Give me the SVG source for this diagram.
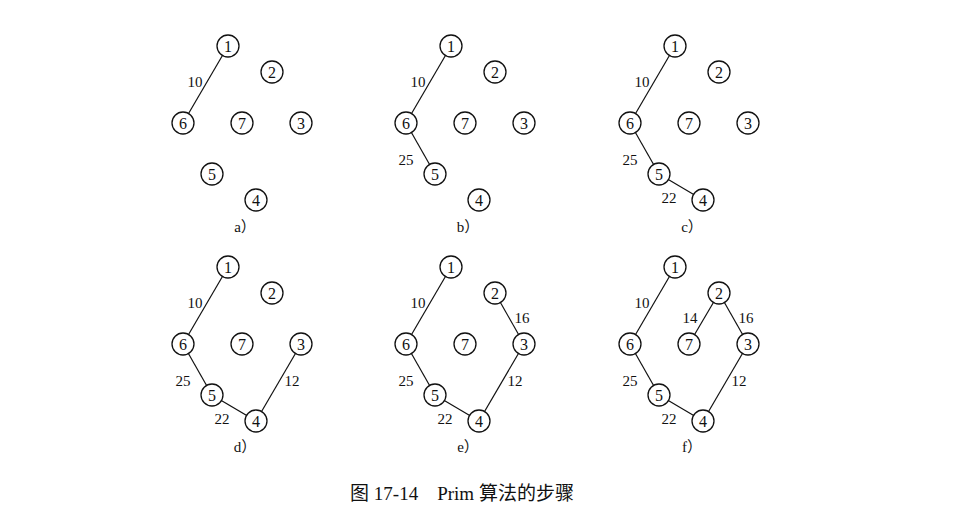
<svg xmlns="http://www.w3.org/2000/svg" width="964" height="521" viewBox="0 0 964 521">
<style>
.n circle{fill:#fff;stroke:#111;stroke-width:1.3}
.n text{font-family:"Liberation Serif",serif;font-size:16px;fill:#111;text-anchor:middle;dominant-baseline:central}
.e line{stroke:#111;stroke-width:1.2}
.w{font-family:"Liberation Serif",serif;font-size:15px;fill:#111;text-anchor:middle;dominant-baseline:central}
.cap{font-family:"Liberation Serif","Noto Sans CJK SC",serif;font-size:15px;fill:#111;text-anchor:middle}
.title{font-family:"Liberation Serif","Noto Sans CJK SC",serif;font-size:19px;fill:#111;text-anchor:middle}
</style>
<rect width="964" height="521" fill="#fff"/>

<!-- panel a -->
<g id="panel-a">
<g id="edges-a" class="e"><line x1="228" y1="46" x2="183" y2="123"/></g>
<text class="w" x="195" y="82">10</text>
<g id="a-n1" class="n"><circle cx="228" cy="46" r="11"/><text x="228" y="46">1</text></g>
<g id="a-n2" class="n"><circle cx="272" cy="72" r="11"/><text x="272" y="72">2</text></g>
<g id="a-n6" class="n"><circle cx="183" cy="123" r="11"/><text x="183" y="123">6</text></g>
<g id="a-n7" class="n"><circle cx="242" cy="123" r="11"/><text x="242" y="123">7</text></g>
<g id="a-n3" class="n"><circle cx="301" cy="123" r="11"/><text x="301" y="123">3</text></g>
<g id="a-n5" class="n"><circle cx="212" cy="174" r="11"/><text x="212" y="174">5</text></g>
<g id="a-n4" class="n"><circle cx="256" cy="200" r="11"/><text x="256" y="200">4</text></g>
<text class="cap" x="245" y="232">a）</text>
</g>

<!-- panel b -->
<g id="panel-b" transform="translate(223,0)">
<g id="edges-b" class="e"><line x1="228" y1="46" x2="183" y2="123"/><line x1="183" y1="123" x2="212" y2="174"/></g>
<text class="w" x="195" y="82">10</text>
<text class="w" x="183" y="160">25</text>
<g id="b-n1" class="n"><circle cx="228" cy="46" r="11"/><text x="228" y="46">1</text></g>
<g id="b-n2" class="n"><circle cx="272" cy="72" r="11"/><text x="272" y="72">2</text></g>
<g id="b-n6" class="n"><circle cx="183" cy="123" r="11"/><text x="183" y="123">6</text></g>
<g id="b-n7" class="n"><circle cx="242" cy="123" r="11"/><text x="242" y="123">7</text></g>
<g id="b-n3" class="n"><circle cx="301" cy="123" r="11"/><text x="301" y="123">3</text></g>
<g id="b-n5" class="n"><circle cx="212" cy="174" r="11"/><text x="212" y="174">5</text></g>
<g id="b-n4" class="n"><circle cx="256" cy="200" r="11"/><text x="256" y="200">4</text></g>
<text class="cap" x="245" y="232">b）</text>
</g>

<!-- panel c -->
<g id="panel-c" transform="translate(447,0)">
<g id="edges-c" class="e"><line x1="228" y1="46" x2="183" y2="123"/><line x1="183" y1="123" x2="212" y2="174"/><line x1="212" y1="174" x2="256" y2="200"/></g>
<text class="w" x="195" y="82">10</text>
<text class="w" x="183" y="160">25</text>
<text class="w" x="222" y="198">22</text>
<g id="c-n1" class="n"><circle cx="228" cy="46" r="11"/><text x="228" y="46">1</text></g>
<g id="c-n2" class="n"><circle cx="272" cy="72" r="11"/><text x="272" y="72">2</text></g>
<g id="c-n6" class="n"><circle cx="183" cy="123" r="11"/><text x="183" y="123">6</text></g>
<g id="c-n7" class="n"><circle cx="242" cy="123" r="11"/><text x="242" y="123">7</text></g>
<g id="c-n3" class="n"><circle cx="301" cy="123" r="11"/><text x="301" y="123">3</text></g>
<g id="c-n5" class="n"><circle cx="212" cy="174" r="11"/><text x="212" y="174">5</text></g>
<g id="c-n4" class="n"><circle cx="256" cy="200" r="11"/><text x="256" y="200">4</text></g>
<text class="cap" x="245" y="232">c）</text>
</g>

<!-- panel d -->
<g id="panel-d" transform="translate(0,221)">
<g id="edges-d" class="e"><line x1="228" y1="46" x2="183" y2="123"/><line x1="183" y1="123" x2="212" y2="174"/><line x1="212" y1="174" x2="256" y2="200"/><line x1="256" y1="200" x2="301" y2="123"/></g>
<text class="w" x="195" y="82">10</text>
<text class="w" x="183" y="160">25</text>
<text class="w" x="222" y="198">22</text>
<text class="w" x="292" y="160">12</text>
<g id="d-n1" class="n"><circle cx="228" cy="46" r="11"/><text x="228" y="46">1</text></g>
<g id="d-n2" class="n"><circle cx="272" cy="72" r="11"/><text x="272" y="72">2</text></g>
<g id="d-n6" class="n"><circle cx="183" cy="123" r="11"/><text x="183" y="123">6</text></g>
<g id="d-n7" class="n"><circle cx="242" cy="123" r="11"/><text x="242" y="123">7</text></g>
<g id="d-n3" class="n"><circle cx="301" cy="123" r="11"/><text x="301" y="123">3</text></g>
<g id="d-n5" class="n"><circle cx="212" cy="174" r="11"/><text x="212" y="174">5</text></g>
<g id="d-n4" class="n"><circle cx="256" cy="200" r="11"/><text x="256" y="200">4</text></g>
<text class="cap" x="245" y="231">d）</text>
</g>

<!-- panel e -->
<g id="panel-e" transform="translate(223,221)">
<g id="edges-e" class="e"><line x1="228" y1="46" x2="183" y2="123"/><line x1="183" y1="123" x2="212" y2="174"/><line x1="212" y1="174" x2="256" y2="200"/><line x1="256" y1="200" x2="301" y2="123"/><line x1="272" y1="72" x2="301" y2="123"/></g>
<text class="w" x="195" y="82">10</text>
<text class="w" x="183" y="160">25</text>
<text class="w" x="222" y="198">22</text>
<text class="w" x="292" y="160">12</text>
<text class="w" x="299" y="97">16</text>
<g id="e-n1" class="n"><circle cx="228" cy="46" r="11"/><text x="228" y="46">1</text></g>
<g id="e-n2" class="n"><circle cx="272" cy="72" r="11"/><text x="272" y="72">2</text></g>
<g id="e-n6" class="n"><circle cx="183" cy="123" r="11"/><text x="183" y="123">6</text></g>
<g id="e-n7" class="n"><circle cx="242" cy="123" r="11"/><text x="242" y="123">7</text></g>
<g id="e-n3" class="n"><circle cx="301" cy="123" r="11"/><text x="301" y="123">3</text></g>
<g id="e-n5" class="n"><circle cx="212" cy="174" r="11"/><text x="212" y="174">5</text></g>
<g id="e-n4" class="n"><circle cx="256" cy="200" r="11"/><text x="256" y="200">4</text></g>
<text class="cap" x="245" y="231">e）</text>
</g>

<!-- panel f -->
<g id="panel-f" transform="translate(447,221)">
<g id="edges-f" class="e"><line x1="228" y1="46" x2="183" y2="123"/><line x1="183" y1="123" x2="212" y2="174"/><line x1="212" y1="174" x2="256" y2="200"/><line x1="256" y1="200" x2="301" y2="123"/><line x1="272" y1="72" x2="301" y2="123"/><line x1="272" y1="72" x2="242" y2="123"/></g>
<text class="w" x="195" y="82">10</text>
<text class="w" x="183" y="160">25</text>
<text class="w" x="222" y="198">22</text>
<text class="w" x="292" y="160">12</text>
<text class="w" x="299" y="97">16</text>
<text class="w" x="243" y="97">14</text>
<g id="f-n1" class="n"><circle cx="228" cy="46" r="11"/><text x="228" y="46">1</text></g>
<g id="f-n2" class="n"><circle cx="272" cy="72" r="11"/><text x="272" y="72">2</text></g>
<g id="f-n6" class="n"><circle cx="183" cy="123" r="11"/><text x="183" y="123">6</text></g>
<g id="f-n7" class="n"><circle cx="242" cy="123" r="11"/><text x="242" y="123">7</text></g>
<g id="f-n3" class="n"><circle cx="301" cy="123" r="11"/><text x="301" y="123">3</text></g>
<g id="f-n5" class="n"><circle cx="212" cy="174" r="11"/><text x="212" y="174">5</text></g>
<g id="f-n4" class="n"><circle cx="256" cy="200" r="11"/><text x="256" y="200">4</text></g>
<text class="cap" x="245" y="231">f）</text>
</g>

<text class="title" x="462" y="500">图 17-14　Prim 算法的步骤</text>
</svg>
